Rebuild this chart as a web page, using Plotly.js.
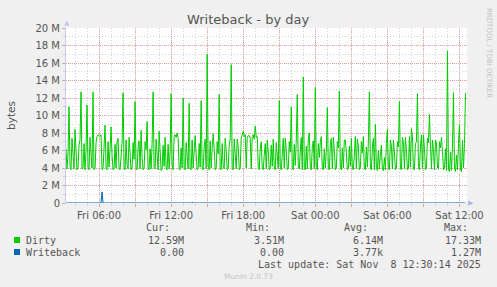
<!DOCTYPE html>
<html>
<head>
<meta charset="utf-8">
<script src="https://cdn.plot.ly/plotly-3.0.1.min.js"></script>
<style>html,body{margin:0;padding:0;background:#f0f0f0;}#chart{width:497px;height:287px;}</style>
</head>
<body>
<div id="chart"></div>
<script>
// ---- data (5-minute samples starting Fri 03:15) ----
const startTime = Date.UTC(2025, 10, 7, 3, 15);
const stepMs = 5 * 60 * 1000;
const dirtyM = [
  6.2, 3.9, 5.6,
  11.0, 4.2, 3.8, 7.4, 5.1, 3.9,
  8.4, 6.0, 3.8, 4.1, 6.6, 7.2,
  12.7, 3.9, 4.0, 6.8, 3.8, 5.9,
  11.2, 4.1, 3.8, 7.5, 6.2, 4.0,
  12.7, 3.8, 3.9, 6.9, 7.6, 7.8,
  7.7, 7.6, 7.8, 3.8, 3.9, 6.4,
  8.9, 4.0, 3.8, 7.0, 4.1, 6.2,
  8.7, 5.4, 3.8, 3.9, 6.7, 4.0,
  7.0, 7.4, 3.9, 3.8, 5.8, 6.9,
  12.6, 4.0, 3.8, 7.2, 4.3, 3.9,
  7.5, 6.1, 3.8, 4.0, 6.9, 5.0,
  11.6, 3.9, 3.8, 6.5, 7.1, 3.9,
  8.3, 5.2, 3.8, 4.0, 7.0, 6.1,
  9.3, 4.0, 3.8, 6.2, 3.9, 6.8,
  12.7, 4.1, 3.9, 7.3, 5.0, 3.8,
  8.2, 6.4, 3.7, 3.9, 6.6, 4.2,
  7.5, 4.0, 3.8, 6.7, 3.9, 5.9,
  12.5, 4.2, 3.8, 7.6, 7.8, 7.5,
  8.0, 7.4, 3.9, 3.8, 6.3, 4.0,
  12.0, 4.1, 3.8, 6.9, 5.3, 3.9,
  11.4, 3.9, 3.8, 7.2, 4.0, 6.0,
  7.7, 5.5, 3.8, 3.9, 6.8, 4.1,
  11.7, 4.0, 3.8, 6.4, 7.3, 3.9,
  17.0, 4.2, 3.8, 7.1, 4.0, 6.3,
  7.9, 6.2, 3.8, 4.0, 7.0, 5.6,
  12.4, 3.9, 3.8, 6.8, 4.1, 3.9,
  7.4, 6.0, 3.8, 3.9, 6.6, 7.2,
  15.8, 4.0, 3.8, 7.3, 5.1, 3.9,
  7.3, 6.5, 3.8, 4.0, 7.4, 7.9,
  8.2, 7.6, 7.8, 4.0, 7.5, 7.7,
  7.7, 7.4, 3.9, 7.6, 7.8, 7.3,
  8.8, 7.5, 7.6, 4.1, 3.8, 6.2,
  7.0, 4.0, 3.8, 5.5, 6.8, 3.9,
  7.2, 5.9, 3.8, 4.0, 6.6, 4.2,
  7.3, 4.0, 3.8, 6.9, 5.7, 3.9,
  11.7, 4.2, 3.8, 6.3, 7.4, 4.0,
  7.4, 6.1, 3.8, 3.9, 7.0, 5.8,
  11.0, 4.1, 3.8, 6.7, 4.3, 7.2,
  12.4, 4.0, 3.9, 6.0, 7.5, 3.8,
  14.4, 4.0, 3.8, 6.5, 3.9, 7.3,
  8.0, 4.1, 3.8, 6.4, 7.1, 3.9,
  13.2, 4.2, 3.8, 6.8, 5.2, 7.0,
  7.6, 3.9, 3.8, 6.2, 4.0, 5.9,
  10.9, 4.0, 3.8, 6.6, 7.4, 3.9,
  7.5, 6.1, 3.8, 4.0, 7.0, 6.3,
  12.8, 4.1, 3.8, 6.3, 4.0, 7.2,
  7.2, 5.8, 3.8, 3.9, 6.5, 4.2,
  7.4, 4.0, 3.8, 5.6, 7.6, 3.9,
  7.3, 6.4, 3.8, 4.0, 7.0, 5.7,
  7.6, 4.0, 3.8, 6.4, 4.1, 7.1,
  12.7, 4.0, 3.8, 6.3, 7.4, 3.8,
  9.0, 4.2, 3.7, 6.0, 3.9, 5.5,
  6.6, 3.8, 3.7, 5.2, 3.8, 6.8,
  8.4, 4.0, 3.8, 7.2, 6.5, 3.9,
  7.2, 5.8, 3.8, 4.0, 7.0, 6.4,
  11.6, 4.0, 3.8, 7.5, 6.9, 3.9,
  7.5, 6.1, 3.8, 4.0, 7.6, 4.1,
  8.5, 7.6, 3.9, 3.8, 6.8, 7.0,
  12.5, 4.2, 3.8, 6.4, 7.8, 3.9,
  7.8, 6.2, 3.8, 4.0, 7.4, 6.9,
  10.1, 6.6, 3.9, 7.2, 6.0, 3.8,
  7.2, 6.9, 4.0, 3.9, 7.0, 6.3,
  7.5, 5.9, 3.8, 4.0, 6.2, 3.7,
  17.4, 3.8, 3.6, 5.8, 3.7, 6.4,
  12.6, 4.0, 3.6, 5.5, 3.8, 6.8,
  9.0, 3.8, 3.6, 7.2, 4.0, 6.8,
  12.59
];
const writebackTimes = ['2025-11-07 03:15', '2025-11-07 06:10', '2025-11-07 06:15', '2025-11-07 06:20',
                        '2025-11-07 13:40', '2025-11-07 13:45', '2025-11-07 13:50', '2025-11-08 12:30'];
const writebackM = [0, 0, 1.27, 0, 0, 0.08, 0, 0];

const yTickVals = [0, 2, 4, 6, 8, 10, 12, 14, 16, 18, 20];
const yTickText = ['0', '2 M', '4 M', '6 M', '8 M', '10 M', '12 M', '14 M', '16 M', '18 M', '20 M'];
const xTickVals = ['2025-11-07 03:00', '2025-11-07 06:00', '2025-11-07 09:00', '2025-11-07 12:00',
                   '2025-11-07 15:00', '2025-11-07 18:00', '2025-11-07 21:00', '2025-11-08 00:00',
                   '2025-11-08 03:00', '2025-11-08 06:00', '2025-11-08 09:00', '2025-11-08 12:00'];
const xTickText = ['', 'Fri 06:00', '', 'Fri 12:00', '', 'Fri 18:00', '', 'Sat 00:00', '', 'Sat 06:00', '', 'Sat 12:00'];

const seriesNames = ['Dirty', 'Writeback'];
const seriesColors = ['#00cc00', '#0066b3'];
const curVals = ['12.59M', '0.00'];
const minVals = ['3.51M', '0.00'];
const avgVals = ['6.14M', '3.77k'];
const maxVals = ['17.33M', '1.27M'];

// ---- build ----
function fmt(ms) { return new Date(ms).toISOString().slice(0, 19).replace('T', ' '); }
const dirtyTimes = dirtyM.map((_, i) => fmt(startTime + i * stepMs));

const L = 66, R = 30, T = 28, B = 84, W = 497, H = 287;
const pw = W - L - R, ph = H - T - B;
const px = x => (x - L) / pw;
const py = y => (H - B - y) / ph;

const majorGrid = 'rgba(225,140,140,0.75)';
const minorGrid = 'rgba(200,200,200,0.8)';
const txt = '#555555';
const mono = 'DejaVu Sans Mono, monospace';

const traces = [
  { x: dirtyTimes, y: dirtyM.map(v => v * 1e6), type: 'scatter', mode: 'lines',
    line: { color: seriesColors[0], width: 1 }, name: seriesNames[0] },
  { x: writebackTimes, y: writebackM.map(v => v * 1e6), type: 'scatter', mode: 'lines',
    line: { color: seriesColors[1], width: 1 }, name: seriesNames[1] }
];

const ann = [];
function t(x, y, text, opts) {
  ann.push(Object.assign({ xref: 'paper', yref: 'paper', x: px(x), y: py(y), text: text,
    showarrow: false, xanchor: 'left', yanchor: 'middle',
    font: { family: mono, size: 10, color: txt } }, opts || {}));
}
t(172, 227, 'Cur:', { xanchor: 'right' });
t(272, 227, 'Min:', { xanchor: 'right' });
t(370, 227, 'Avg:', { xanchor: 'right' });
t(470, 227, 'Max:', { xanchor: 'right' });
const rowsY = [240, 252];
const shapes = [];
for (let k = 0; k < 2; k++) {
  const y = rowsY[k];
  t(24, y, seriesNames[k]);
  t(186, y, curVals[k], { xanchor: 'right' });
  t(286, y, minVals[k], { xanchor: 'right' });
  t(385, y, avgVals[k], { xanchor: 'right' });
  t(483, y, maxVals[k], { xanchor: 'right' });
  shapes.push({ type: 'rect', xref: 'paper', yref: 'paper', x0: px(14), x1: px(20), y0: py(y + 3), y1: py(y - 3),
    fillcolor: seriesColors[k], line: { width: 0 } });
}
t(483, 264, 'Last update: Sat Nov \u00a08 12:30:14 2025', { xanchor: 'right' });
t(248, 276, 'Munin 2.0.73', { xanchor: 'center', font: { family: 'DejaVu Sans', size: 7.5, color: '#c4c4c4' } });
t(248, 19, 'Writeback - by day', { xanchor: 'center', font: { family: 'DejaVu Sans', size: 13, color: '#555555' } });
t(11, 116, 'bytes', { xanchor: 'center', textangle: -90, font: { family: 'DejaVu Sans', size: 10.5, color: txt } });
t(489, 53, 'RRDTOOL / TOBI OETIKER', { xanchor: 'center', textangle: 90, font: { family: 'DejaVu Sans', size: 7, color: '#c0c0c0' } });
t(66.5, 23, '\u25B2', { xanchor: 'center', font: { family: 'DejaVu Sans', size: 7, color: '#c8c8f0' } });
t(471, 203, '\u25B6', { xanchor: 'center', font: { family: 'DejaVu Sans', size: 7, color: '#a8b8e8' } });

const layout = {
  width: W, height: H,
  margin: { l: L, r: R, t: T, b: B, pad: 0 },
  paper_bgcolor: '#f0f0f0', plot_bgcolor: '#ffffff',
  showlegend: false, hovermode: false,
  font: { family: 'DejaVu Sans', size: 10, color: txt },
  xaxis: {
    type: 'date', range: ['2025-11-07 03:15', '2025-11-08 12:37:30'],
    tickmode: 'array', tickvals: xTickVals, ticktext: xTickText,
    showgrid: true, gridcolor: majorGrid, griddash: '1px,1px', gridwidth: 1,
    ticks: 'outside', ticklen: 3, tickcolor: majorGrid,
    tickfont: { family: 'DejaVu Sans', size: 10, color: txt },
    minor: { tickmode: 'linear', tick0: '2025-11-07 00:00', dtick: 3600000, showgrid: true,
             gridcolor: minorGrid, griddash: '1px,2px', ticks: 'outside', ticklen: 2, tickcolor: minorGrid },
    showline: false, zeroline: false, fixedrange: true
  },
  yaxis: {
    range: [0, 20e6], tickmode: 'array', tickvals: yTickVals.map(v => v * 1e6), ticktext: yTickText,
    showgrid: true, gridcolor: majorGrid, griddash: '1px,1px', gridwidth: 1,
    ticks: 'outside', ticklen: 3, tickcolor: majorGrid,
    tickfont: { family: 'DejaVu Sans', size: 10, color: txt },
    minor: { tickmode: 'linear', tick0: 0, dtick: 1e6, showgrid: true,
             gridcolor: minorGrid, griddash: '1px,2px', ticks: 'outside', ticklen: 2, tickcolor: minorGrid },
    showline: true, linecolor: '#c8c8f0', linewidth: 1, zeroline: false, fixedrange: true
  },
  annotations: ann, shapes: shapes
};

Plotly.newPlot('chart', traces, layout, { displayModeBar: false, staticPlot: true });
</script>
</body>
</html>
